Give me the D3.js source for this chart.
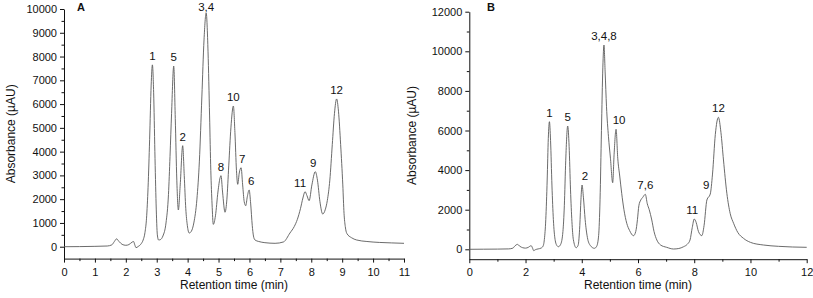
<!DOCTYPE html>
<html><head><meta charset="utf-8">
<script src="https://cdn.jsdelivr.net/npm/d3@7"></script>
<style>
html,body{margin:0;padding:0;background:#fff;}
svg text{font-family:"Liberation Sans",Arial,sans-serif;}
</style></head>
<body><svg id="c" width="813" height="298"></svg>
<script>
// Panel A chromatogram (retention time min, absorbance µAU)
const timeA = [0,0.5,1.0,1.4,1.55,1.63,1.7,1.78,1.88,2.0,2.1,2.2,2.25,2.29,2.33,2.4,2.5,2.56,2.62,2.67,2.72,2.77,2.82,2.86,2.9,2.94,2.98,3.02,3.06,3.12,3.2,3.3,3.38,3.43,3.48,3.55,3.6,3.65,3.7,3.76,3.84,3.89,3.94,3.99,4.05,4.12,4.2,4.3,4.38,4.46,4.53,4.6,4.66,4.71,4.75,4.79,4.83,4.9,4.98,5.05,5.08,5.13,5.21,5.27,5.33,5.4,5.48,5.53,5.58,5.62,5.67,5.73,5.78,5.83,5.88,5.93,5.99,6.04,6.09,6.13,6.18,6.3,6.5,6.83,7.1,7.31,7.45,7.55,7.65,7.73,7.8,7.86,7.93,8.02,8.13,8.2,8.28,8.37,8.45,8.52,8.6,8.68,8.75,8.82,8.88,8.95,9.02,9.06,9.1,9.15,9.3,9.47,9.8,10.2,10.6,11.0];
const absA  = [0,5,15,30,80,220,330,220,100,60,90,190,220,80,-40,10,130,280,600,1200,2500,4500,6800,7650,6500,4000,1800,500,282,300,450,1000,2200,3800,5600,7600,5400,2800,1545,2600,4250,3000,1600,900,576,650,1000,2000,3600,6300,8700,9830,8200,5500,3200,1800,940,1300,2300,2900,2990,2300,1450,2000,3400,5000,5920,4800,3200,2625,3100,3325,2600,1900,1725,2100,2386,1800,900,450,282,220,170,143,200,576,850,1150,1600,2050,2315,2150,1936,2600,3157,2800,1900,1376,1550,1950,2800,4300,5600,6216,5700,4300,2600,1400,850,560,380,282,220,180,160,143];
// Panel B chromatogram
const timeB = [0,0.5,1.0,1.4,1.55,1.63,1.71,1.8,1.9,2.0,2.1,2.17,2.2,2.25,2.29,2.35,2.45,2.55,2.62,2.67,2.72,2.77,2.81,2.85,2.89,2.94,2.99,3.05,3.12,3.17,3.25,3.33,3.38,3.43,3.5,3.55,3.6,3.65,3.7,3.8,3.87,3.93,3.97,4.01,4.06,4.12,4.2,4.3,4.45,4.53,4.6,4.65,4.7,4.75,4.79,4.83,4.88,4.95,5.02,5.1,5.15,5.22,5.28,5.35,5.42,5.5,5.6,5.7,5.84,5.92,5.98,6.03,6.1,6.17,6.26,6.33,6.4,6.49,6.57,6.67,6.8,7.02,7.26,7.45,7.62,7.75,7.85,7.93,8.0,8.07,8.15,8.27,8.35,8.45,8.57,8.65,8.75,8.86,8.95,9.04,9.16,9.28,9.4,9.55,9.75,10.0,10.46,11.0,12.0];
const absB  = [0,5,10,20,60,180,250,150,80,60,100,170,182,60,-70,-20,20,60,150,500,1500,3500,5600,6444,5500,3200,1500,500,180,131,250,900,2200,4500,6227,5200,3000,1400,500,81,200,1200,2500,3247,2600,1500,600,200,50,150,700,2500,6000,9200,10317,9000,7200,5686,4600,3363,4800,6060,4600,3700,2828,2000,1313,950,687,900,1500,2200,2490,2626,2777,2300,2000,1480,900,470,220,100,15,40,130,250,470,1100,1530,1350,900,690,1200,2490,2790,3800,5800,6666,5900,4510,2828,1800,1313,850,555,350,217,150,100];

// Peak labels
const peakLabelsA = ["1","5","2","3,4","8","10","7","6","11","9","12"];
const peakTimesA  = [2.86,3.55,3.84,4.6,5.08,5.48,5.73,5.99,7.8,8.13,8.82];
const peakAbsA    = [7650,7600,4250,9830,2990,5920,3325,2386,2315,3157,6216];
const peakLabelsB = ["1","5","2","3,4,8","10","7,6","11","9","12"];
const peakTimesB  = [2.85,3.5,4.01,4.79,5.22,6.26,8.0,8.57,8.86];
const peakAbsB    = [6444,6227,3247,10317,6060,2777,1530,2790,6666];

// Axis ticks
const xTicksA = [0,1,2,3,4,5,6,7,8,9,10,11];
const yTicksA = [0,1000,2000,3000,4000,5000,6000,7000,8000,9000,10000];
const xTicksB = [0,2,4,6,8,10,12];
const yTicksB = [0,2000,4000,6000,8000,10000,12000];

const svg = d3.select("#c");
const lineColor = "#5a5a5a";

function panel(o){
  const x = d3.scaleLinear().domain(o.xDom).range(o.xRange);
  const y = d3.scaleLinear().domain(o.yDom).range(o.yRange);
  const g = svg.append("g");
  const axisY = o.yRange[0];
  const fmt = d3.format("d");
  const xMinor = d3.range(o.xDom[0], o.xDom[1] + 1e-9, o.xMinorStep).filter(v => !o.xTicks.some(t => Math.abs(t - v) < 1e-9));
  const yMinor = d3.range(0, o.yDom[1] + 1e-9, o.yMinorStep).filter(v => !o.yTicks.some(t => Math.abs(t - v) < 1e-9));
  const gx = g.append("g").attr("transform", `translate(0,${axisY})`)
    .call(d3.axisBottom(x).tickValues(o.xTicks).tickFormat(fmt).tickSize(4).tickPadding(5).tickSizeOuter(0));
  g.append("g").attr("transform", `translate(0,${axisY})`)
    .call(d3.axisBottom(x).tickValues(xMinor).tickSize(2.5).tickFormat("").tickSizeOuter(0))
    .select(".domain").remove();
  const gy = g.append("g").attr("transform", `translate(${o.xRange[0]},0)`)
    .call(d3.axisLeft(y).tickValues(o.yTicks).tickFormat(fmt).tickSize(4).tickPadding(3).tickSizeOuter(0));
  g.append("g").attr("transform", `translate(${o.xRange[0]},0)`)
    .call(d3.axisLeft(y).tickValues(yMinor).tickSize(2.5).tickFormat("").tickSizeOuter(0))
    .select(".domain").remove();
  g.selectAll(".tick text").attr("font-size", 11).attr("fill", "#111").attr("font-family", "Liberation Sans, Arial, sans-serif");
  g.selectAll(".domain, .tick line").attr("stroke", "#111");
  gx.selectAll(".tick text").attr("dy", "0.75em");

  const pts = o.t.map((t, i) => [t, o.a[i]]);
  g.append("path").datum(pts)
    .attr("fill", "none").attr("stroke", lineColor).attr("stroke-width", 0.9)
    .attr("d", d3.line().x(d => x(d[0])).y(d => y(d[1])).curve(d3.curveMonotoneX));

  o.labels.forEach((lab, i) => {
    g.append("text").attr("x", x(o.lt[i]) + (o.ldx[i] || 0)).attr("y", Math.max(10.5, y(o.la[i]) - 5))
      .attr("text-anchor", "middle").attr("font-size", 11.5).attr("fill", "#111").text(lab);
  });

  g.append("text").attr("x", (o.xRange[0] + o.xRange[1]) / 2).attr("y", 289)
    .attr("text-anchor", "middle").attr("font-size", 12).attr("fill", "#111").text("Retention time (min)");
  g.append("text").attr("transform", `translate(${o.yTitleX},${(o.yRange[0] + o.yRange[1]) / 2}) rotate(-90)`)
    .attr("text-anchor", "middle").attr("font-size", 12).attr("fill", "#111").text("Absorbance (µAU)");
  g.append("text").attr("x", o.tagX).attr("y", 10.5).attr("font-size", 11).attr("font-weight", "bold")
    .attr("fill", "#111").text(o.tag);
}

panel({xDom:[0,11], xRange:[64,404], yDom:[-500,10000], yRange:[258.6,9], xTicks:xTicksA, yTicks:yTicksA,
  xMinorStep:0.5, yMinorStep:500, t:timeA, a:absA, labels:peakLabelsA, lt:peakTimesA, la:peakAbsA,
  ldx:[0,0,0,0,0,0,1,2,-5,-2,0], yTitleX:15, tagX:77, tag:"A"});
panel({xDom:[0,12], xRange:[469.3,806.7], yDom:[-500,12000], yRange:[259.2,11.7], xTicks:xTicksB, yTicks:yTicksB,
  xMinorStep:1, yMinorStep:1000, t:timeB, a:absB, labels:peakLabelsB, lt:peakTimesB, la:peakAbsB,
  ldx:[0,0,3,0,3,0,-2,-4,0], yTitleX:416, tagX:487, tag:"B"});
</script></body></html>
